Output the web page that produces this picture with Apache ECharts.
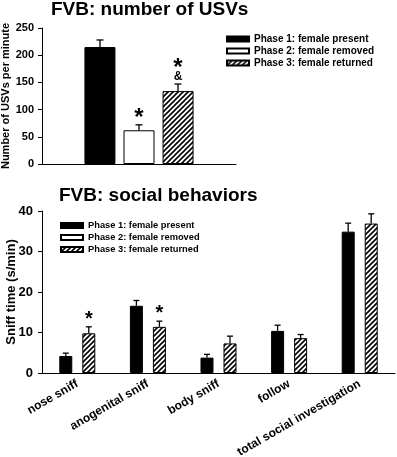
<!DOCTYPE html>
<html lang="en">
<head>
    <meta charset="UTF-8">
    <title>FVB: USVs and social behaviors</title>
    <style>
        body { margin: 0; background: #fff; }
        #chart { width: 397px; height: 457px; }
    </style>
    <script src="https://cdn.jsdelivr.net/npm/echarts@6/dist/echarts.min.js"></script>
</head>
<body>
<div id="chart"></div>
<script>
    // Data
    var phaseNames = ['Phase 1: female present', 'Phase 2: female removed', 'Phase 3: female returned'];

    // top panel: one group, three phases
    var usvMeans = [215, 62, 134];
    var usvErrors = [13, 10, 13];
    var usvStars = ['', '*', '*'];
    var usvAmps = ['', '', '&'];

    // bottom panel: phase 1 vs phase 3
    var behaviors = ['nose sniff', 'anogenital sniff', 'body sniff', 'follow', 'total social investigation'];
    var sniffPhase1 = [4.2, 16.6, 3.8, 10.4, 34.9];
    var sniffPhase1Err = [0.7, 1.3, 0.8, 1.4, 2.1];
    var sniffPhase3 = [9.8, 11.4, 7.3, 8.6, 36.9];
    var sniffPhase3Err = [1.6, 1.4, 1.8, 0.9, 2.4];
    var sniffPhase3Stars = ['*', '*', '', '', ''];

    var FONT = 'Liberation Sans, Arial, sans-serif';

    // diagonal hatch pattern
    function makeHatch() {
        var c = document.createElement('canvas');
        c.width = 5; c.height = 5;
        var ctx = c.getContext('2d');
        ctx.fillStyle = '#fff';
        ctx.fillRect(0, 0, 5, 5);
        ctx.strokeStyle = '#000';
        ctx.lineWidth = 1.6;
        ctx.beginPath();
        ctx.moveTo(-1, 6); ctx.lineTo(6, -1);
        ctx.moveTo(-1, 1); ctx.lineTo(1, -1);
        ctx.moveTo(4, 6); ctx.lineTo(6, 4);
        ctx.stroke();
        return c;
    }
    var hatch = { image: makeHatch(), repeat: 'repeat' };
    var phaseStyles = [
        { color: '#000', borderColor: '#000', borderWidth: 1 },
        { color: '#fff', borderColor: '#000', borderWidth: 1 },
        { color: hatch, borderColor: '#000', borderWidth: 1 }
    ];

    // error bar (upper half) + significance marks, drawn on the axes' scales
    function errorBars(id, xIdx, yIdx, means, errs, offset, cap, stars, amps, starSize) {
        var data = means.map(function (m, i) { return [i, m, errs[i]]; });
        return {
            id: id,
            type: 'custom',
            xAxisIndex: xIdx,
            yAxisIndex: yIdx,
            z: 5,
            silent: true,
            data: data,
            renderItem: function (params, api) {
                var i = params.dataIndex;
                var base = api.coord([api.value(0), api.value(1)]);
                var top = api.coord([api.value(0), api.value(1) + api.value(2)]);
                var x = base[0] + offset;
                var kids = [
                    { type: 'line', shape: { x1: x, y1: base[1], x2: x, y2: top[1] }, style: { stroke: '#000', lineWidth: 1.3 } },
                    { type: 'line', shape: { x1: x - cap, y1: top[1], x2: x + cap, y2: top[1] }, style: { stroke: '#000', lineWidth: 1.3 } }
                ];
                var amp = amps && amps[i];
                var star = stars && stars[i];
                if (amp) {
                    kids.push({ type: 'text', style: { text: amp, x: x, y: top[1] - 7, align: 'center', verticalAlign: 'middle', font: 'bold 12px ' + FONT, fill: '#000' } });
                }
                if (star) {
                    var sy = amp ? top[1] - 21 : top[1] - 12;
                    kids.push({ type: 'text', style: { text: star, x: x, y: sy + starSize * 0.22, align: 'center', verticalAlign: 'middle', font: 'bold ' + starSize + 'px ' + FONT, fill: '#000' } });
                }
                return { type: 'group', children: kids };
            }
        };
    }

    var axisBlack = { lineStyle: { color: '#000', width: 1 } };

    var option = {
        animation: false,
        backgroundColor: '#fff',
        title: [
            { text: 'FVB: number of USVs', left: 51, top: 0, padding: 0, textStyle: { fontFamily: FONT, fontSize: 19, fontWeight: 'bold', color: '#000' } },
            { text: 'FVB: social behaviors', left: 59, top: 186, padding: 0, textStyle: { fontFamily: FONT, fontSize: 19, fontWeight: 'bold', color: '#000' } }
        ],
        legend: [
            {
                data: phaseNames, orient: 'vertical', left: 226, top: 34, padding: 0, icon: 'rect',
                itemWidth: 22, itemHeight: 5, itemGap: 2, selectedMode: false,
                textStyle: { fontFamily: FONT, fontSize: 10, fontWeight: 'bold', color: '#000' }
            },
            {
                data: phaseNames, orient: 'vertical', left: 60, top: 221, padding: 0, icon: 'rect',
                itemWidth: 22, itemHeight: 5, itemGap: 3, selectedMode: false,
                textStyle: { fontFamily: FONT, fontSize: 9.3, fontWeight: 'bold', color: '#000' }
            }
        ],
        grid: [
            { left: 42, top: 28, width: 194, height: 136, outerBoundsMode: 'none' },
            { left: 42, top: 211, width: 353, height: 162, outerBoundsMode: 'none' }
        ],
        xAxis: [
            {
                gridIndex: 0, type: 'category', data: [''],
                axisLine: axisBlack, axisTick: { alignWithLabel: true, length: 4, lineStyle: { color: '#000' } },
                axisLabel: { show: false }
            },
            {
                gridIndex: 1, type: 'category', data: behaviors,
                axisLine: axisBlack, axisTick: { alignWithLabel: true, length: 4, lineStyle: { color: '#000' } },
                axisLabel: { rotate: 30, margin: 10, interval: 0, fontFamily: FONT, fontSize: 12, fontWeight: 'bold', color: '#000' }
            }
        ],
        yAxis: [
            {
                gridIndex: 0, type: 'value', min: 0, max: 250, interval: 50,
                name: 'Number of USVs per minute', nameLocation: 'middle', nameGap: 31, nameMoveOverlap: false,
                nameTextStyle: { fontFamily: FONT, fontSize: 11, fontWeight: 'bold', color: '#000' },
                axisLine: { show: true, lineStyle: { color: '#000' } },
                axisTick: { show: true, length: 4, lineStyle: { color: '#000' } },
                axisLabel: { margin: 8, fontFamily: FONT, fontSize: 11, fontWeight: 'bold', color: '#000' },
                splitLine: { show: false }
            },
            {
                gridIndex: 1, type: 'value', min: 0, max: 40, interval: 10,
                name: 'Sniff time (s/min)', nameLocation: 'middle', nameGap: 24, nameMoveOverlap: false,
                nameTextStyle: { fontFamily: FONT, fontSize: 13, fontWeight: 'bold', color: '#000' },
                axisLine: { show: true, lineStyle: { color: '#000' } },
                axisTick: { show: true, length: 4, lineStyle: { color: '#000' } },
                axisLabel: { margin: 9, fontFamily: FONT, fontSize: 13, fontWeight: 'bold', color: '#000' },
                splitLine: { show: false }
            }
        ],
        series: [
            // top panel bars
            { name: phaseNames[0], type: 'bar', xAxisIndex: 0, yAxisIndex: 0, data: [usvMeans[0]], barWidth: 31, barGap: '26%', itemStyle: phaseStyles[0] },
            { name: phaseNames[1], type: 'bar', xAxisIndex: 0, yAxisIndex: 0, data: [usvMeans[1]], barWidth: 31, barGap: '26%', itemStyle: phaseStyles[1] },
            { name: phaseNames[2], type: 'bar', xAxisIndex: 0, yAxisIndex: 0, data: [usvMeans[2]], barWidth: 31, barGap: '26%', itemStyle: phaseStyles[2] },
            errorBars('usvErr1', 0, 0, [usvMeans[0]], [usvErrors[0]], -39, 3.5, null, null, 24),
            errorBars('usvErr2', 0, 0, [usvMeans[1]], [usvErrors[1]], 0, 3.5, [usvStars[1]], null, 24),
            errorBars('usvErr3', 0, 0, [usvMeans[2]], [usvErrors[2]], 39, 3.5, [usvStars[2]], [usvAmps[2]], 24),
            // bottom panel bars
            { name: phaseNames[0], type: 'bar', xAxisIndex: 1, yAxisIndex: 1, data: sniffPhase1, barWidth: 13, barGap: '77%', itemStyle: phaseStyles[0] },
            { name: phaseNames[2], type: 'bar', xAxisIndex: 1, yAxisIndex: 1, data: sniffPhase3, barWidth: 13, barGap: '77%', itemStyle: phaseStyles[2] },
            errorBars('sniffErr1', 1, 1, sniffPhase1, sniffPhase1Err, -11.5, 3, null, null, 20),
            errorBars('sniffErr3', 1, 1, sniffPhase3, sniffPhase3Err, 11.5, 3, sniffPhase3Stars, null, 20)
        ]
    };

    var chart = echarts.init(document.getElementById('chart'));
    chart.setOption(option);
</script>
</body>
</html>
